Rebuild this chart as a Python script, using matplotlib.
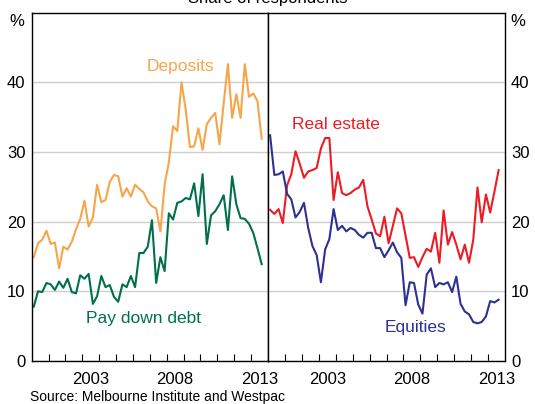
import matplotlib
matplotlib.use("Agg")
import matplotlib.pyplot as plt
import numpy as np

plt.rcParams['font.family'] = ['Liberation Sans', 'DejaVu Sans']

# Quarterly observations, 2000 Q1 .. 2013 Q3
start_year = 2000
n_q = 55
deposits = [14.9, 16.9, 17.4, 18.7, 16.8, 17.0, 13.3, 16.4, 16.0, 17.1,
            18.9, 20.4, 23.0, 19.3, 20.6, 25.3, 22.8, 23.1, 25.7, 26.7,
            26.5, 23.6, 24.8, 23.6, 25.3, 24.7, 24.2, 22.9, 22.2, 21.9,
            18.6, 25.3, 28.5, 33.7, 33.0, 40.0, 36.1, 30.7, 30.8, 33.4,
            30.3, 34.0, 34.9, 35.6, 31.1, 37.0, 42.6, 34.9, 38.3, 34.9,
            42.6, 37.9, 38.4, 37.3, 31.9]
pay_down_debt = [7.8, 10.0, 9.9, 11.2, 11.0, 10.2, 11.4, 10.5, 11.8, 9.9,
                 9.7, 12.3, 11.8, 12.5, 8.2, 9.3, 12.2, 10.6, 10.9, 9.2,
                 8.5, 11.0, 10.6, 12.2, 10.6, 15.5, 15.5, 16.4, 20.2, 11.2,
                 14.9, 12.9, 21.2, 20.3, 22.7, 22.9, 23.4, 23.2, 25.5, 20.8,
                 26.8, 16.8, 20.9, 21.5, 22.5, 23.8, 18.8, 26.5, 22.5, 20.5,
                 20.4, 19.7, 18.4, 16.2, 13.9]
real_estate = [21.7, 21.1, 21.8, 19.8, 25.2, 26.8, 30.1, 28.3, 26.3, 27.2,
               27.4, 27.7, 30.5, 32.0, 32.0, 23.1, 27.1, 24.1, 23.8, 24.1,
               24.6, 24.9, 26.0, 22.2, 20.3, 18.3, 17.9, 20.7, 16.9, 19.4,
               21.9, 21.2, 18.0, 14.8, 14.9, 13.5, 14.9, 16.1, 15.7, 18.4,
               14.1, 21.6, 16.7, 18.5, 16.7, 14.6, 16.7, 14.1, 17.4, 24.9,
               19.9, 23.9, 21.3, 24.3, 27.4]
equities = [32.4, 26.7, 26.8, 27.2, 24.0, 23.2, 20.6, 21.4, 22.7, 19.1,
            16.5, 15.2, 11.3, 16.0, 17.5, 21.8, 18.8, 19.4, 18.6, 19.1,
            18.8, 18.1, 17.7, 18.4, 18.4, 16.2, 16.2, 14.9, 15.9, 17.0,
            15.6, 14.8, 8.0, 11.3, 11.2, 8.1, 6.8, 12.4, 13.3, 10.6,
            11.2, 11.0, 11.3, 9.9, 12.1, 8.2, 7.1, 6.7, 5.6, 5.4,
            5.6, 6.4, 8.6, 8.4, 8.8]
year_labels = ['2003', '2008', '2013']
y_ticks = [0, 10, 20, 30, 40]

x = start_year + 0.125 + 0.25 * np.arange(n_q)

C_DEP = '#F7A54A'
C_DEBT = '#00704A'
C_RE = '#ED1C24'
C_EQ = '#2E3192'

W, H = 535, 404
fig = plt.figure(figsize=(W / 100, H / 100), dpi=100)

def px_rect(l, r, t, b):
    return [l / W, 1 - b / H, (r - l) / W, (b - t) / H]

axL = fig.add_axes(px_rect(31.7, 268, 12.6, 361))
axR = fig.add_axes(px_rect(268, 505, 12.6, 361))

for ax in (axL, axR):
    ax.set_xlim(2000, 2014)
    ax.set_ylim(0, 50)
    ax.set_yticks(y_ticks)
    ax.grid(axis='y', color='#CFCFCF', linewidth=1.0)
    ax.set_axisbelow(True)
    ax.set_xticks([int(l) + 0.5 for l in year_labels])
    ax.set_xticklabels(year_labels)
    ax.set_xticks(np.arange(2001, 2014), minor=True)
    ax.tick_params(axis='x', which='major', length=0, pad=8, labelsize=12)
    ax.tick_params(axis='x', which='minor', direction='in', length=5,
                   width=0.8, color='black')
    ax.tick_params(axis='y', length=0, labelsize=12)
    for s in ax.spines.values():
        s.set_color('black')
        s.set_linewidth(1.0)

axL.tick_params(axis='y', pad=4.5)
axR.yaxis.tick_right()
axR.tick_params(axis='y', pad=4.3)

lw = 1.5
axL.plot(x, deposits, color=C_DEP, lw=lw)
axL.plot(x, pay_down_debt, color=C_DEBT, lw=lw)
axR.plot(x, real_estate, color=C_RE, lw=lw)
axR.plot(x, equities, color=C_EQ, lw=lw)

fs_lab = 12.5
axL.text(2008.8, 42.3, 'Deposits', color=C_DEP, fontsize=fs_lab, ha='center', va='center')
axL.text(2003.2, 6.1, 'Pay down debt', color=C_DEBT, fontsize=fs_lab, ha='left', va='center')
axR.text(2001.4, 33.9, 'Real estate', color=C_RE, fontsize=fs_lab, ha='left', va='center')
axR.text(2006.9, 4.8, 'Equities', color=C_EQ, fontsize=fs_lab, ha='left', va='center')

fig.text(17 / W, 1 - 21 / H, '%', fontsize=12, ha='center', va='center')
fig.text(518 / W, 1 - 21 / H, '%', fontsize=12, ha='center', va='center')
fig.text(268 / W, 1 - 3.5 / H, 'Share of respondents', fontsize=12,
         ha='center', va='baseline')
fig.text(30 / W, 1 - 397 / H, 'Source: Melbourne Institute and Westpac',
         fontsize=10, ha='left', va='center')

fig.savefig('out.png', dpi=100)
